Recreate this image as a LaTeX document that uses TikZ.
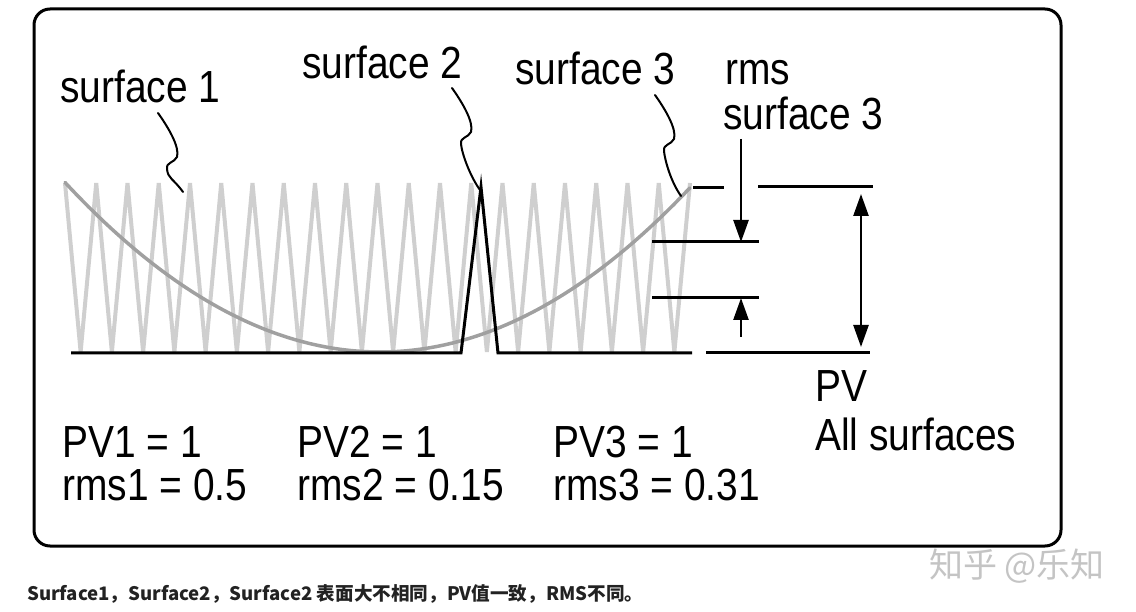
\documentclass[tikz,border=0pt]{standalone}
\usepackage{fontspec}
\setmainfont{Liberation Sans}[FakeStretch=0.865]
\newfontfamily\cjk{Noto Sans CJK SC}
\usetikzlibrary{arrows.meta,calc}
\definecolor{wavegray}{HTML}{CFCFCF}
\definecolor{curvegray}{HTML}{A0A0A0}
\definecolor{capcol}{HTML}{222222}
\definecolor{wmcol}{HTML}{C4C4C4}
\begin{document}
\begin{tikzpicture}[x=1pt,y=-1pt,
  big/.style={font=\fontsize{45}{50}\selectfont, inner sep=0pt, anchor=base west},
  blk/.style={line width=3pt, black},
  lead/.style={line width=2pt, black, line cap=round, line join=round},
  tri/.style={-{Triangle[length=22pt,width=15pt]}},
]
\useasboundingbox (0,0) rectangle (1136,612);
% frame
\draw[line width=3pt, rounded corners=16pt] (34,9) rectangle (1061,546);

% surface 1 : triangle wave
\draw[wavegray, line width=4pt, line join=miter]
  (65,183) \foreach \i in {0,...,19} { -- ({65+31.25*(\i+0.5)},352) -- ({65+31.25*(\i+1)},183) };

% surface 3 : parabola
\draw[curvegray, line width=3.5pt, domain=65:690, samples=80, line cap=round]
  plot (\x, {352 - 0.001705*(\x-380)*(\x-380)});

% surface 2 : spike
\draw[blk, line join=miter] (71,353) -- (461,353) -- (481,187) -- (498,353) -- (692,353);

% labels
\node[big] (s1) at (60,103) {surface 1};
\node[big] (s2) at (302,79) {surface 2};
\node[big] (s3) at (515,85) {surface 3};
\node[big] (rms) at (725,85) {rms};
\node[big] (rmss3) at (723,130) {surface 3};
\node[big] (pv1) at (62,457) {PV1 = 1};
\node[big] (r1) at (62,500) {rms1 = 0.5};
\node[big] (pv2) at (297,457) {PV2 = 1};
\node[big] (r2) at (297,500) {rms2 = 0.15};
\node[big] (pv3) at (553,457) {PV3 = 1};
\node[big] (r3) at (553,500) {rms3 = 0.31};
\node[big] (pv) at (815,402) {PV};
\node[big] (all) at (815,450) {All surfaces};

% leader lines
\coordinate (l1) at (158,113); \coordinate (e1) at (183,192);
\coordinate (l2) at (452,88);  \coordinate (e2) at (480,190);
\coordinate (l3) at (655,95);  \coordinate (e3) at (681,196);
\foreach \a/\b in {l1/e1,l2/e2,l3/e3}{
  \draw[lead] (\a) .. controls ($(\a)+(10,14)$) and ($(\a)+(22,34)$) .. ($(\a)+(19,44)$)
     .. controls ($(\a)+(16,50)$) and ($(\a)+(8,49)$) .. ($(\a)+(9,56)$)
     .. controls ($(\a)+(10,66)$) and ($(\b)+(-10,-14)$) .. (\b);
}

% rms / PV dimension lines
\coordinate (t1) at (693,188); \coordinate (t2) at (724,188);
\coordinate (t3) at (758,187); \coordinate (t4) at (873,187);
\coordinate (m1) at (652,242); \coordinate (m2) at (759,242);
\coordinate (n1) at (652,298); \coordinate (n2) at (759,298);
\coordinate (b1) at (706,353); \coordinate (b2) at (870,353);
\draw[blk] (t1) -- (t2);
\draw[blk] (t3) -- (t4);
\draw[blk] (m1) -- (m2);
\draw[blk] (n1) -- (n2);
\draw[blk] (b1) -- (b2);

\coordinate (da) at (741,139); \coordinate (db) at (741,242);
\coordinate (ua) at (741,337); \coordinate (ub) at (741,298);
\coordinate (pa) at (861,187); \coordinate (pb) at (861,353);
\draw[line width=2.5pt, tri] (da) -- (db);
\draw[line width=2.5pt, tri] (ua) -- (ub);
\draw[line width=2.5pt, {Triangle[length=22pt,width=15pt]}-{Triangle[length=22pt,width=15pt]}, shorten <=7pt, shorten >=6pt] (pa) -- (pb);

% watermark
\node[inner sep=0pt, anchor=base west, text=wmcol, font=\cjk\fontsize{34}{37}\selectfont] (wm) at (929,577) {知乎 @乐知};

% caption
\node[inner sep=0pt, anchor=base west, text=capcol, font=\cjk\bfseries\fontsize{18.6}{21}\selectfont] (cap) at (27,600) {Surface1，Surface2，Surface2 表面大不相同，PV值一致，RMS不同。};
\end{tikzpicture}
\end{document}
